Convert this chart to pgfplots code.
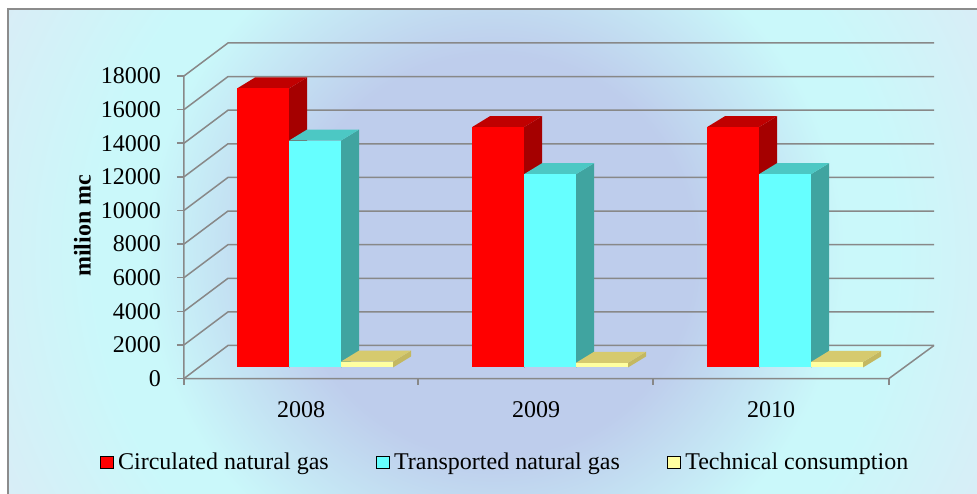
\documentclass[border=0pt]{standalone}
\usepackage{fontspec}
\setmainfont{Liberation Serif}
\usepackage{pgfplots}
\pgfplotsset{compat=1.18}
\definecolor{gridc}{RGB}{136,136,136}
\definecolor{redF}{RGB}{255,0,0}
\definecolor{redT}{RGB}{192,0,0}
\definecolor{redS}{RGB}{165,0,0}
\definecolor{cyF}{RGB}{102,255,255}
\definecolor{cyT}{RGB}{76,200,196}
\definecolor{cyS}{RGB}{64,164,160}
\definecolor{yeF}{RGB}{255,255,160}
\definecolor{yeT}{RGB}{214,202,110}
\definecolor{yeS}{RGB}{196,184,96}
\definecolor{bgC}{RGB}{190,205,236}
\definecolor{bgM}{RGB}{202,248,250}
\definecolor{bgO}{RGB}{222,233,245}
\definecolor{framec}{RGB}{140,140,140}
\pgfdeclareradialshading{bgsh}{\pgfpoint{0bp}{0bp}}{color(0bp)=(bgC); color(10bp)=(bgC); color(17.5bp)=(bgM); color(20bp)=(bgM); color(30bp)=(bgO); color(80bp)=(bgO)}
% one 3-D column: x0, value, front, top, side colours
\newcommand{\barbox}[5]{%
  \edef\xa{\the\numexpr#1+52\relax}%
  \edef\xb{\the\numexpr#1+18\relax}%
  \edef\xc{\the\numexpr#1+70\relax}%
  \edef\ya{\the\numexpr#2+655\relax}%
  \edef\yb{\the\numexpr#2+1310\relax}%
  \addplot[forget plot, draw=none, fill=#5] coordinates {(\xa,655) (\xc,1310) (\xc,\yb) (\xa,\ya)} --cycle;
  \addplot[forget plot, draw=none, fill=#4] coordinates {(#1,\ya) (\xa,\ya) (\xc,\yb) (\xb,\yb)} --cycle;
  \addplot[forget plot, draw=none, fill=#3] coordinates {(#1,655) (\xa,655) (\xa,\ya) (#1,\ya)} --cycle;
}
\newcommand{\gridlvl}[1]{%
  \edef\gb{\the\numexpr#1+1964\relax}%
  \addplot[forget plot, gridc, line width=1.5bp] coordinates {(184,#1) (228,\gb) (934,\gb)};
}
\begin{document}
\begin{tikzpicture}
\begin{axis}[
  set layers,
  scale only axis, width=750bp, height=336.13bp,
  xmin=184, xmax=934, ymin=0, ymax=20000,
  clip=false,
  axis line style={draw=none},
  font=\fontsize{24bp}{28bp}\selectfont,
  /pgf/number format/assume math mode=true,
  /pgf/number format/1000 sep={},
  scaled ticks=false,
  ytick={0,2000,...,18000},
  xtick={301,536,771}, xticklabels={2008,2009,2010},
  tick align=outside, major tick length=7bp,
  tick pos=left,
  x tick style={draw=none},
  y tick style={gridc, line width=1.5bp},
  yticklabel style={anchor=east, inner sep=0pt, xshift=-16bp},
  xticklabel style={anchor=north, inner sep=0pt, yshift=-16bp},
  every axis y label/.style={at={(axis cs:82.5,9074)}, rotate=90, anchor=center, font=\fontsize{24bp}{28bp}\selectfont\bfseries},
  ylabel={milion mc},
  legend style={at={(axis cs:504,-4968)}, anchor=center, draw=none, fill=none,
    legend columns=3, nodes={inner sep=0pt},
    /tikz/every odd column/.append style={column sep=5bp},
    /tikz/every even column/.append style={column sep=47bp}},
  legend image code/.code={\fill[#1] (0bp,-6bp) rectangle (13bp,6bp);},
]
% background
\addplot[forget plot, on layer=axis background, draw=none, shade, shading=bgsh]
  coordinates {(-5,37098) (995,37098) (995,-22402) (-5,-22402)} --cycle;
\addplot[forget plot, on layer=axis background, draw=none, fill=white]
  coordinates {(-5,21985) (995,21985) (995,23500) (-5,23500)} --cycle;
\addplot[forget plot, on layer=axis background, draw=none, fill=white]
  coordinates {(-5,23500) (8,23500) (8,-8000) (-5,-8000)} --cycle;
\addplot[forget plot, on layer=axis background, framec, line width=1.6bp]
  coordinates {(8,-8000) (8,21985) (995,21985)};
% legend
\addlegendimage{fill=redF}\addlegendentry{Circulated natural gas}
\addlegendimage{fill=cyF}\addlegendentry{Transported natural gas}
\addlegendimage{fill=yeF}\addlegendentry{Technical consumption}
% walls and floor
\gridlvl{0}
\gridlvl{2000}
\gridlvl{4000}
\gridlvl{6000}
\gridlvl{8000}
\gridlvl{10000}
\gridlvl{12000}
\gridlvl{14000}
\gridlvl{16000}
\gridlvl{18000}
\addplot[forget plot, gridc, line width=1.5bp] coordinates {(184,18000) (184,0) (889,0) (934,1964)};
\addplot[forget plot, gridc, line width=1.5bp] coordinates {(184,0) (184,-416)};
\addplot[forget plot, gridc, line width=1.5bp] coordinates {(418,0) (418,-416)};
\addplot[forget plot, gridc, line width=1.5bp] coordinates {(653,0) (653,-416)};
\addplot[forget plot, gridc, line width=1.5bp] coordinates {(889,0) (889,-416)};
% columns: 2008
\barbox{237}{16600}{redF}{redT}{redS}
\barbox{289}{13500}{cyF}{cyT}{cyS}
\barbox{341}{350}{yeF}{yeT}{yeS}
% 2009
\barbox{472}{14300}{redF}{redT}{redS}
\barbox{524}{11500}{cyF}{cyT}{cyS}
\barbox{576}{280}{yeF}{yeT}{yeS}
% 2010
\barbox{707}{14300}{redF}{redT}{redS}
\barbox{759}{11500}{cyF}{cyT}{cyS}
\barbox{811}{330}{yeF}{yeT}{yeS}
\coordinate (bbbl) at (axis cs:0,-6813);
\coordinate (bbtr) at (axis cs:977,22521);
\end{axis}
\pgfresetboundingbox
\path[use as bounding box] (bbbl) rectangle (bbtr);
\end{tikzpicture}
\end{document}
